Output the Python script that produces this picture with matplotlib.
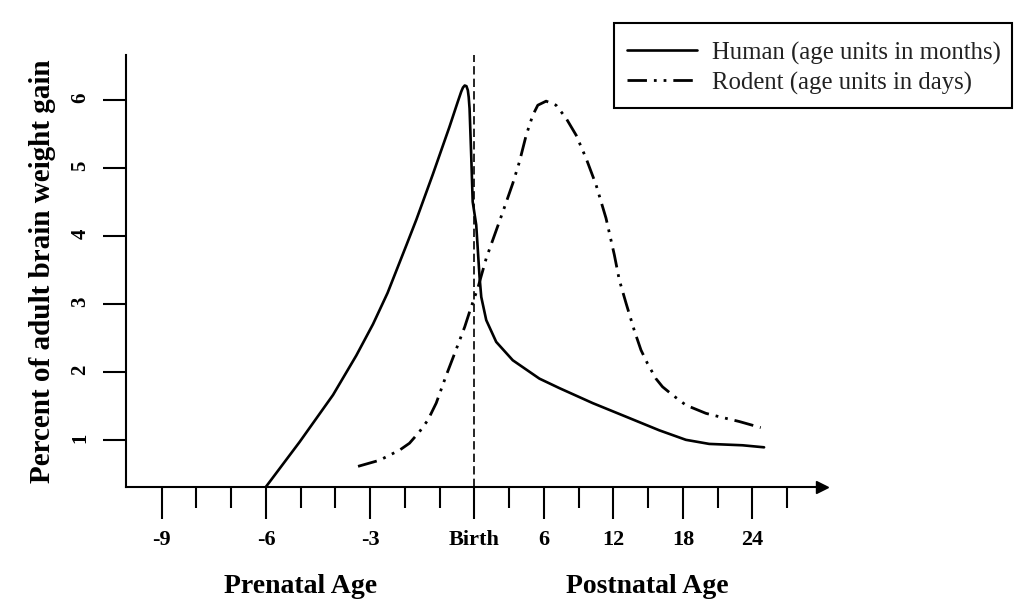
import numpy as np
import matplotlib
matplotlib.use("Agg")
import matplotlib.pyplot as plt
from matplotlib.patches import Rectangle

# age: months before birth (negative), months/days after birth (positive)
human_age = [-6.0, -5.03, -4.07, -3.40, -2.92, -2.50, -1.96, -1.67, -1.20, -0.72,
             -0.48, -0.38, -0.33, -0.28, -0.23, -0.19, -0.165, -0.14, -0.09, -0.05,
             0.155, 0.44, 0.59, 1.02, 1.88, 3.31, 5.61, 7.34, 10.21, 13.09,
             15.96, 18.26, 20.27, 23.14, 25.01]
human_pct = [0.31, 0.97, 1.66, 2.24, 2.70, 3.16, 3.86, 4.24, 4.90, 5.60,
             5.97, 6.12, 6.18, 6.21, 6.20, 6.14, 6.04, 5.87, 5.14, 4.50,
             4.16, 3.40, 3.10, 2.76, 2.44, 2.17, 1.90, 1.76, 1.54, 1.34,
             1.14, 1.00, 0.94, 0.92, 0.89]

rodent_age = [-3.35, -2.73, -2.15, -1.87, -1.58, -1.34, -1.10, -0.81, -0.57, -0.28,
              -0.09, 0.29, 1.02, 2.45, 3.31, 3.89, 4.47, 5.03, 5.47, 6.19,
              7.05, 7.91, 8.78, 9.64, 10.50, 11.36, 12.08, 12.51, 13.09, 13.80,
              14.38, 14.95, 15.67, 16.24, 17.10, 18.26, 19.98, 21.13, 22.85, 24.72]
rodent_pct = [0.61, 0.70, 0.85, 0.95, 1.12, 1.29, 1.54, 1.95, 2.27, 2.66,
              2.96, 3.23, 3.67, 4.35, 4.77, 5.09, 5.48, 5.77, 5.92, 5.98,
              5.92, 5.73, 5.48, 5.14, 4.75, 4.26, 3.72, 3.35, 3.01, 2.61,
              2.32, 2.12, 1.90, 1.78, 1.66, 1.51, 1.39, 1.34, 1.27, 1.18]

major_ticks = [-9, -6, -3, 0, 6, 12, 18, 24]
major_labels = ['-9', '-6', '-3', 'Birth', '6', '12', '18', '24']
minor_ticks = [-8, -7, -5, -4, -2, -1, 3, 9, 15, 21, 27]
y_ticks = [1, 2, 3, 4, 5, 6]

plt.rcParams['font.family'] = ['Liberation Serif', 'DejaVu Serif']


# prenatal ticks are 1 month apart, postnatal ticks are 3 units apart
def fwd(x):
    x = np.asarray(x, dtype=float)
    return np.where(x < 0, x, x / 3.0)


def inv(p):
    p = np.asarray(p, dtype=float)
    return np.where(p < 0, p, p * 3.0)


fig = plt.figure(figsize=(10.24, 6.13), dpi=100)
ax = fig.add_axes([0.123, 0.2055, 0.683, 0.7045])
ax.set_xscale('function', functions=(fwd, inv))

ax.plot(human_age, human_pct, color='black', lw=1.9, solid_capstyle='round',
        solid_joinstyle='round', label='Human (age units in months)')
ax.plot(rodent_age, rodent_pct, color='black', lw=2.0,
        linestyle=(0, (7, 2.5, 1, 2.5, 1, 2.5)), dash_capstyle='butt',
        dash_joinstyle='round', label='Rodent (age units in days)')
ax.axvline(0, color='black', lw=1.2, linestyle=(0, (5, 2.5)))

ax.set_xlim(-10.03, 30.3)
ax.set_ylim(0.306, 6.656)

ax.spines['top'].set_visible(False)
ax.spines['right'].set_visible(False)
ax.spines['left'].set_linewidth(1.5)
ax.spines['bottom'].set_linewidth(1.5)
ax.plot(0.995, 0, marker='>', color='black', ms=9, transform=ax.transAxes,
        clip_on=False)

ax.set_xticks(major_ticks)
ax.set_xticklabels(major_labels, fontsize=16, fontweight='bold')
ax.set_xticks(minor_ticks, minor=True)
ax.tick_params(axis='x', which='major', length=23, width=1.5, pad=8)
ax.tick_params(axis='x', which='minor', length=15, width=1.5)

ax.set_yticks(y_ticks)
ax.set_yticklabels([str(v) for v in y_ticks], fontsize=15, fontweight='bold')
ax.tick_params(axis='y', length=16.5, width=1.5, pad=9, labelrotation=90)

ax.set_ylabel('Percent of adult brain weight gain', fontsize=21,
              fontweight='bold')
ax.yaxis.set_label_coords(-0.10, 0.5)

ax.text(-5, -0.231, 'Prenatal Age', transform=ax.get_xaxis_transform(),
        ha='center', va='center', fontsize=20, fontweight='bold')
ax.text(14.9, -0.231, 'Postnatal Age', transform=ax.get_xaxis_transform(),
        ha='center', va='center', fontsize=20, fontweight='bold')

leg = ax.legend(loc='center left', bbox_to_anchor=(627 / 1024, 1 - 68 / 613),
                bbox_transform=fig.transFigure, fontsize=17.8, frameon=False,
                borderpad=0, labelspacing=0.28, handlelength=2.83,
                handletextpad=0.6, borderaxespad=0)
for t in leg.get_texts():
    t.set_color('#222222')
fig.add_artist(Rectangle((614 / 1024, 1 - 108 / 613), 398 / 1024, 85 / 613,
                         transform=fig.transFigure, fill=False,
                         edgecolor='black', lw=1.5))

fig.savefig('out.png', dpi=100)
